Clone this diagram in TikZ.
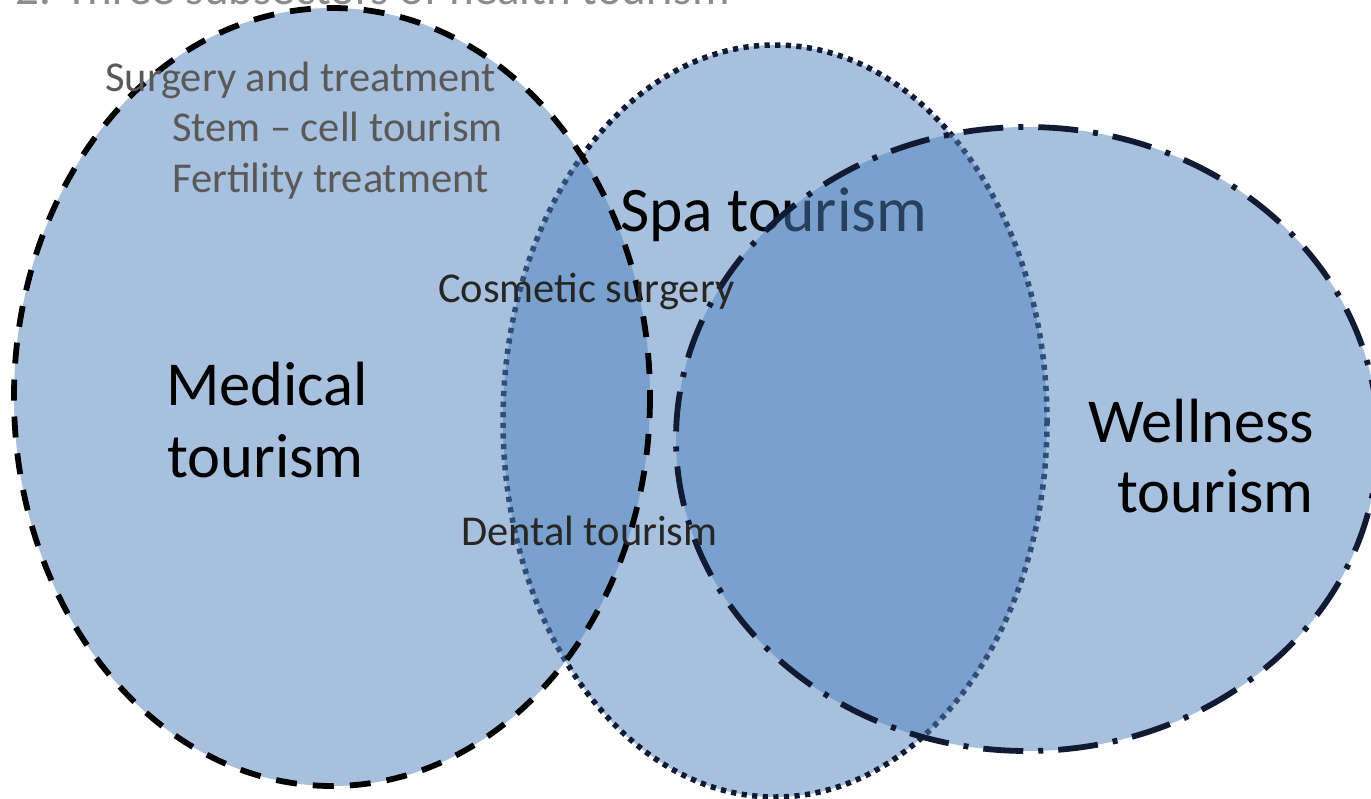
\documentclass[tikz,border=0pt]{standalone}
\usepackage{fontspec}
\setmainfont{Carlito}
\definecolor{vennblue}{HTML}{4F81BD}
\definecolor{navyline}{HTML}{111A33}
\definecolor{smallgray}{HTML}{595959}
\definecolor{darktext}{HTML}{262626}
\definecolor{titlegray}{HTML}{8C8C8C}
\tikzset{
  vennfill/.style={fill=vennblue, fill opacity=0.5, draw opacity=1},
  medline/.style={vennfill, draw=black, line width=5.8pt, dash pattern=on 21pt off 16pt},
  spaline/.style={vennfill, draw=navyline, line width=5.5pt, dash pattern=on 5.2pt off 5.4pt},
  welline/.style={vennfill, draw=navyline, line width=5.8pt, dash pattern=on 40pt off 15pt on 5pt off 15pt},
  bigtext/.style={anchor=base west, inner sep=0pt, font=\fontsize{62.5}{70}\selectfont, text=black},
  smalltext/.style={anchor=base west, inner sep=0pt, font=\fontsize{42.5}{50}\selectfont, text=smallgray},
  midtext/.style={anchor=base west, inner sep=0pt, font=\fontsize{42.5}{50}\selectfont, text=darktext},
}
\begin{document}
\begin{tikzpicture}[x=1pt,y=-1pt]
\useasboundingbox (0,0) rectangle (1371,798);
% title (cut off at top, as in the reference)
\node[anchor=base west, inner sep=0pt, font=\fontsize{47}{56}\selectfont, text=titlegray] (title) at (15,4) {2. Three subsectors of health tourism};
% Spa tourism
\draw[spaline] (775,421) ellipse [x radius=272, y radius=376];
\node[bigtext, font=\fontsize{63.5}{70}\selectfont] (spa) at (620,231) {Spa tourism};
% Medical tourism
\draw[medline] (332,397) ellipse [x radius=318, y radius=389];
\node[bigtext] (med1) at (166,405) {Medical};
\node[bigtext] (med2) at (167,477) {tourism};
\node[smalltext] (surg) at (105,91) {Surgery and treatment};
\node[smalltext] (stem) at (172,141) {Stem -- cell tourism};
\node[smalltext] (fert) at (172,192) {Fertility treatment};
% Wellness tourism
\draw[welline] (1027,439) ellipse [x radius=351, y radius=312];
\node[bigtext] (well1) at (1088,442) {Wellness};
\node[bigtext, anchor=base east] (well2) at (1314,512) {tourism};
% overlap labels
\node[midtext] (cosm) at (438,302) {Cosmetic surgery};
\node[midtext] (dent) at (461,545) {Dental tourism};
\end{tikzpicture}
\end{document}
